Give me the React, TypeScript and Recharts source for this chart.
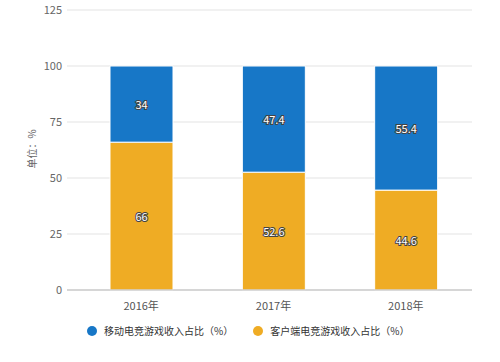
import { BarChart, Bar, XAxis, YAxis, CartesianGrid, LabelList } from 'recharts';

const years = ['2016年', '2017年', '2018年'];
const mobileShare = [34, 47.4, 55.4];
const clientShare = [66, 52.6, 44.6];
const yTicks = [0, 25, 50, 75, 100, 125];

const seriesNames = ['移动电竞游戏收入占比（%）', '客户端电竞游戏收入占比（%）'];
const BLUE = '#1777c7';
const ORANGE = '#efac24';
const FONT = '"Noto Sans CJK SC", "Noto Sans", sans-serif';

const data = years.map((year, i) => ({
    year,
    mobile: mobileShare[i],
    client: clientShare[i],
}));

const legendItems = [
    { name: seriesNames[0], color: BLUE },
    { name: seriesNames[1], color: ORANGE },
];

const OutlinedLabel = (props: any) => {
    const { x, y, width, height, value } = props;
    return (
        <text
            x={x + width / 2}
            y={y + height / 2}
            textAnchor="middle"
            dominantBaseline="central"
            fontSize={11}
            fontFamily={FONT}
            fill="#fff"
            stroke="#444"
            strokeWidth={2}
            paintOrder="stroke"
        >
            {value}
        </text>
    );
};

const App = () => {
    return (
        <div style={{ position: 'fixed', left: 0, top: 0, width: 500, height: 362, background: '#fff', fontFamily: FONT }}>
            <BarChart
                width={500}
                height={362}
                data={data}
                margin={{ top: 10, right: 28, left: 0, bottom: 42 }}
            >
                <CartesianGrid vertical={false} stroke="#e3e3e3" />
                <XAxis
                    dataKey="year"
                    height={30}
                    padding={{ left: 8, right: 0 }}
                    tickLine={false}
                    axisLine={{ stroke: '#bbb' }}
                    tick={{ fill: '#555', fontSize: 11, fontFamily: FONT }}
                    tickMargin={6}
                />
                <YAxis
                    width={67}
                    domain={[0, 125]}
                    ticks={yTicks}
                    tickLine={false}
                    axisLine={false}
                    tickSize={0}
                    tickMargin={5}
                    tick={{ fill: '#666', fontSize: 11, fontFamily: FONT }}
                    label={{
                        content: () => (
                            <text
                                x={36}
                                y={149}
                                transform="rotate(-90 36 149)"
                                textAnchor="middle"
                                fontSize={10}
                                fontFamily={FONT}
                                fill="#666"
                            >
                                单位：%
                            </text>
                        ),
                    }}
                />
                <Bar dataKey="client" name={seriesNames[1]} stackId="a" fill={ORANGE} barSize={63} stroke="#fff" strokeWidth={1} isAnimationActive={false}>
                    <LabelList dataKey="client" content={OutlinedLabel} />
                </Bar>
                <Bar dataKey="mobile" name={seriesNames[0]} stackId="a" fill={BLUE} barSize={63} stroke="#fff" strokeWidth={1} isAnimationActive={false}>
                    <LabelList dataKey="mobile" content={OutlinedLabel} />
                </Bar>
            </BarChart>
            <div style={{ position: 'absolute', left: 87, top: 323, display: 'flex', alignItems: 'center', fontSize: 10, color: '#333' }}>
                {legendItems.map((item, i) => (
                    <div key={item.name} style={{ display: 'flex', alignItems: 'center', marginRight: i === 0 ? 20 : 0 }}>
                        <span style={{ width: 10, height: 10, borderRadius: 5, background: item.color, display: 'inline-block', marginRight: 7 }} />
                        <span>{item.name}</span>
                    </div>
                ))}
            </div>
        </div>
    );
};

export default App;
